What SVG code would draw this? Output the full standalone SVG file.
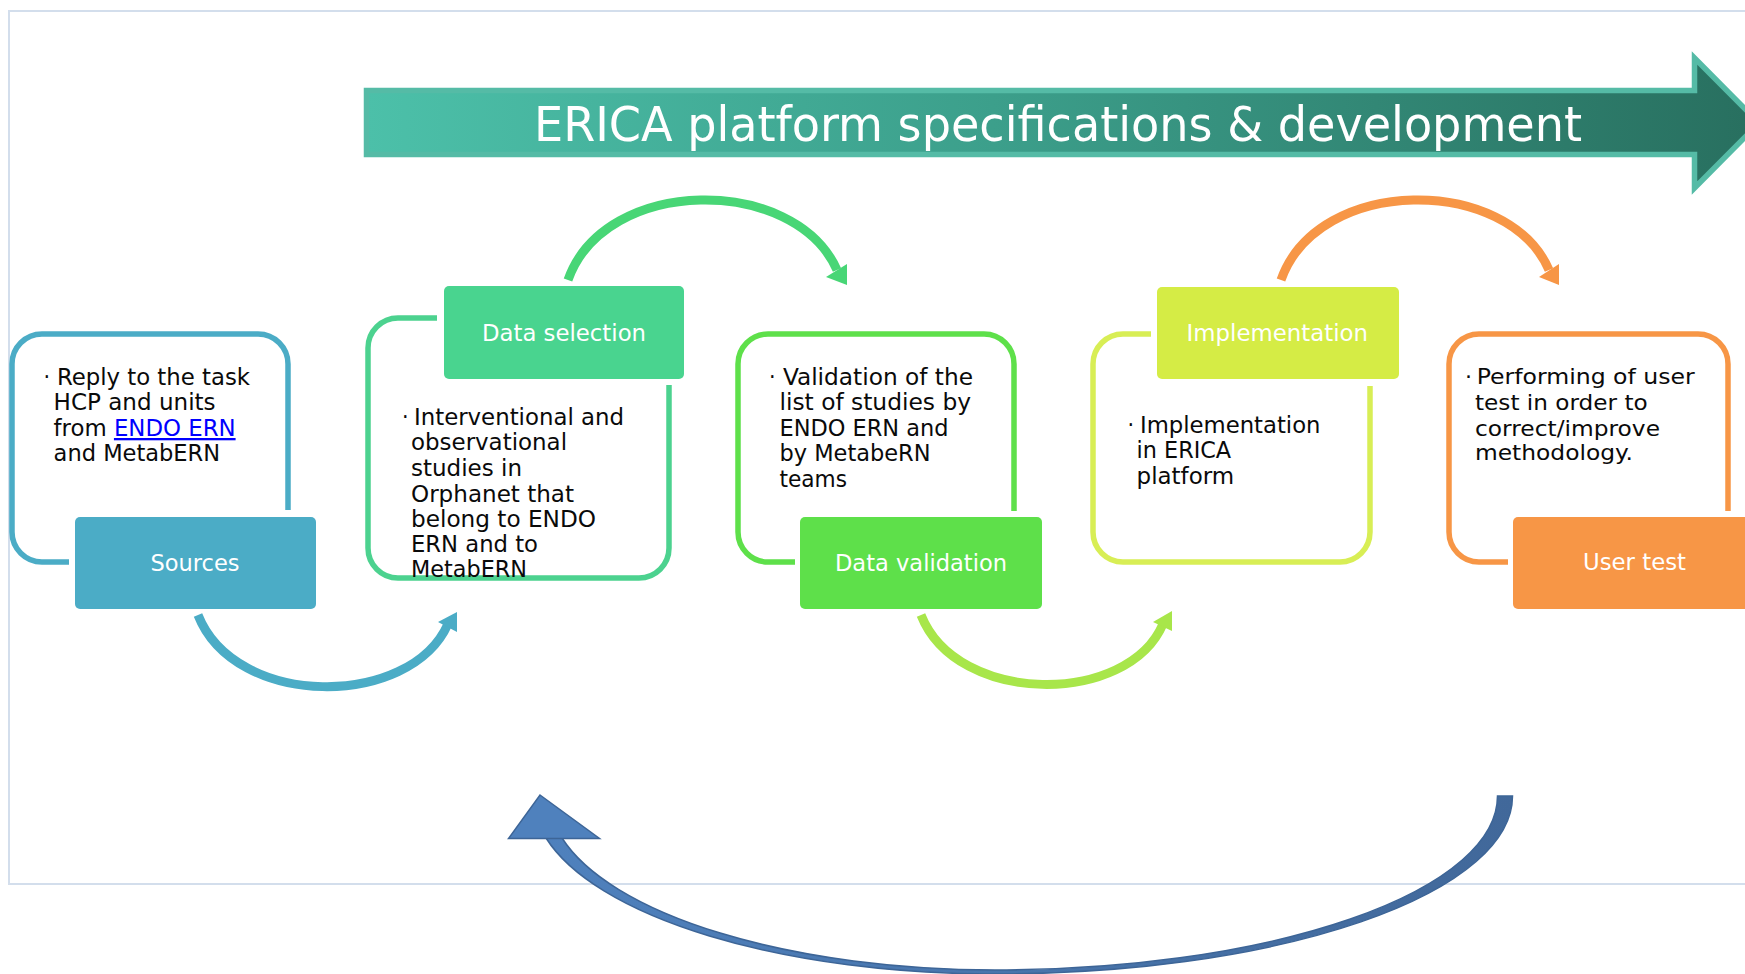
<svg xmlns="http://www.w3.org/2000/svg" width="1745" height="974" viewBox="0 0 1745 974">
<defs>
<linearGradient id="bannerGrad" x1="0" y1="0" x2="1" y2="0">
<stop offset="0" stop-color="#4cc0a9"/>
<stop offset="0.45" stop-color="#3c9f8b"/>
<stop offset="1" stop-color="#286f5f"/>
</linearGradient>
<linearGradient id="loopGrad" x1="0" y1="0" x2="1" y2="0">
<stop offset="0" stop-color="#4f81bd"/>
<stop offset="1" stop-color="#41689a"/>
</linearGradient>
<style>
.frame{fill:none;stroke:#d3deec;stroke-width:2}
.outline{fill:none;stroke-width:5.5;stroke-linecap:butt}
.lbl{font-family:"DejaVu Sans Condensed","DejaVu Sans",sans-serif;font-size:23px;fill:#ffffff}
.body{font-family:"DejaVu Sans Condensed","DejaVu Sans",sans-serif;font-size:23px;fill:#0a0a0a}
.bodyw{font-family:"DejaVu Sans","Verdana",sans-serif;font-size:22px;fill:#0a0a0a}
.title{font-family:"DejaVu Sans Condensed","DejaVu Sans",sans-serif;font-size:48px;fill:#ffffff}
.arc{fill:none;stroke-width:9;stroke-linecap:butt}
.link{fill:#0000ff;text-decoration:underline}
</style>
</defs>
<rect x="0" y="0" width="1745" height="974" fill="#ffffff"/>
<rect class="frame" x="9" y="11" width="1745" height="873"/>

<g id="banner">
<polygon points="366.5,90.5 1694.5,90.5 1694.5,58 1759,123 1694.5,188 1694.5,154.5 366.5,154.5" fill="url(#bannerGrad)" stroke="#55bba6" stroke-width="5.5" stroke-linejoin="miter"/>
<text class="title" x="534" y="141" textLength="1048" lengthAdjust="spacingAndGlyphs">ERICA platform specifications &amp; development</text>
</g>

<g id="connectors">
<path class="arc" stroke="#4bacc6" d="M198,615 C235,709 410,709 448,624"/>
<polygon points="438,622 457,612 457,632" fill="#4bacc6"/>
<path class="arc" stroke="#48d676" d="M568,280 C605,175 795,175 837,270"/>
<polygon points="826,277 847,264 847,285" fill="#48d676"/>
<path class="arc" stroke="#a8e64a" d="M921,615 C957,706 1128,706 1163,624"/>
<polygon points="1153,622 1172,611 1172,631" fill="#a8e64a"/>
<path class="arc" stroke="#f79646" d="M1281,280 C1318,175 1508,175 1549,270"/>
<polygon points="1539,277 1559,264 1559,285" fill="#f79646"/>
<path d="M1512.5,796 A517.5,178 0 0 1 995,974 A462,178 0 0 1 546,838 L562,838 A446.4,174 0 0 0 995,970 A502.5,174 0 0 0 1497.5,796 Z" fill="url(#loopGrad)" stroke="#3d6597" stroke-width="1.5"/>
<polygon points="540,795 599.5,838.5 508.5,838.5" fill="#4f81bd" stroke="#3d6597" stroke-width="1.5" stroke-linejoin="miter"/>
</g>

<g id="sources">
<path class="outline" stroke="#4bacc6" d="M69,562 H42 A30,30 0 0 1 12,532 V364 A30,30 0 0 1 42,334 H258 A30,30 0 0 1 288,364 V510"/>
<rect x="75" y="517" width="241" height="92" rx="5" fill="#4bacc6"/>
<text class="lbl" x="150.5" y="571" textLength="89" lengthAdjust="spacingAndGlyphs">Sources</text>
<text class="body" x="43.5" y="385">·</text>
<text class="body" x="57" y="385" textLength="193" lengthAdjust="spacingAndGlyphs">Reply to the task</text>
<text class="body" x="53.6" y="410" textLength="162" lengthAdjust="spacingAndGlyphs">HCP and units</text>
<text class="body" x="53.6" y="436" textLength="182" lengthAdjust="spacingAndGlyphs">from <tspan class="link">ENDO ERN</tspan></text>
<text class="body" x="53.6" y="461" textLength="166.5" lengthAdjust="spacingAndGlyphs">and MetabERN</text>
</g>

<g id="data-selection">
<path class="outline" stroke="#4cd28f" d="M437,318 H398 A30,30 0 0 0 368,348 V548 A30,30 0 0 0 398,578 H639 A30,30 0 0 0 669,548 V385"/>
<rect x="444" y="286" width="240" height="93" rx="5" fill="#49d48f"/>
<text class="lbl" x="482" y="341" textLength="164" lengthAdjust="spacingAndGlyphs">Data selection</text>
<text class="body" x="402" y="425">·</text>
<text class="body" x="414" y="425" textLength="210" lengthAdjust="spacingAndGlyphs">Interventional and</text>
<text class="body" x="411" y="450" textLength="156" lengthAdjust="spacingAndGlyphs">observational</text>
<text class="body" x="411" y="476" textLength="111" lengthAdjust="spacingAndGlyphs">studies in</text>
<text class="body" x="411" y="502" textLength="163" lengthAdjust="spacingAndGlyphs">Orphanet that</text>
<text class="body" x="411" y="527" textLength="185" lengthAdjust="spacingAndGlyphs">belong to ENDO</text>
<text class="body" x="411" y="552" textLength="127" lengthAdjust="spacingAndGlyphs">ERN and to</text>
<text class="body" x="411" y="577" textLength="116" lengthAdjust="spacingAndGlyphs">MetabERN</text>
</g>

<g id="data-validation">
<path class="outline" stroke="#5ee04a" d="M795,562 H768 A30,30 0 0 1 738,532 V364 A30,30 0 0 1 768,334 H984 A30,30 0 0 1 1014,364 V511"/>
<rect x="800" y="517" width="242" height="92" rx="5" fill="#5ee04a"/>
<text class="lbl" x="835" y="571" textLength="172" lengthAdjust="spacingAndGlyphs">Data validation</text>
<text class="body" x="769" y="385">·</text>
<text class="body" x="783" y="385" textLength="190" lengthAdjust="spacingAndGlyphs">Validation of the</text>
<text class="body" x="779.5" y="410" textLength="191.5" lengthAdjust="spacingAndGlyphs">list of studies by</text>
<text class="body" x="779.5" y="436" textLength="169" lengthAdjust="spacingAndGlyphs">ENDO ERN and</text>
<text class="body" x="779.5" y="461" textLength="151" lengthAdjust="spacingAndGlyphs">by MetabeRN</text>
<text class="body" x="779.5" y="487" textLength="67.5" lengthAdjust="spacingAndGlyphs">teams</text>
</g>

<g id="implementation">
<path class="outline" stroke="#d8ee55" d="M1151,334 H1123 A30,30 0 0 0 1093,364 V532 A30,30 0 0 0 1123,562 H1340 A30,30 0 0 0 1370,532 V386"/>
<rect x="1157" y="287" width="242" height="92" rx="5" fill="#d5ec45"/>
<text class="lbl" x="1186.6" y="341" textLength="181.4" lengthAdjust="spacingAndGlyphs">Implementation</text>
<text class="body" x="1127.5" y="433">·</text>
<text class="body" x="1140" y="433" textLength="180.5" lengthAdjust="spacingAndGlyphs">Implementation</text>
<text class="body" x="1136.6" y="458" textLength="94.5" lengthAdjust="spacingAndGlyphs">in ERICA</text>
<text class="body" x="1136.6" y="484" textLength="97.5" lengthAdjust="spacingAndGlyphs">platform</text>
</g>

<g id="user-test">
<path class="outline" stroke="#f79646" d="M1508,562 H1479 A30,30 0 0 1 1449,532 V364 A30,30 0 0 1 1479,334 H1698 A30,30 0 0 1 1728,364 V511"/>
<rect x="1513" y="517" width="250" height="92" rx="5" fill="#f79646"/>
<text class="lbl" x="1583" y="570" textLength="103" lengthAdjust="spacingAndGlyphs">User test</text>
<text class="bodyw" x="1465" y="384">·</text>
<text class="bodyw" x="1476.7" y="384" textLength="218" lengthAdjust="spacingAndGlyphs">Performing of user</text>
<text class="bodyw" x="1475" y="410" textLength="172.7" lengthAdjust="spacingAndGlyphs">test in order to</text>
<text class="bodyw" x="1475" y="436" textLength="185" lengthAdjust="spacingAndGlyphs">correct/improve</text>
<text class="bodyw" x="1475" y="460" textLength="158" lengthAdjust="spacingAndGlyphs">methodology.</text>
</g>
</svg>
